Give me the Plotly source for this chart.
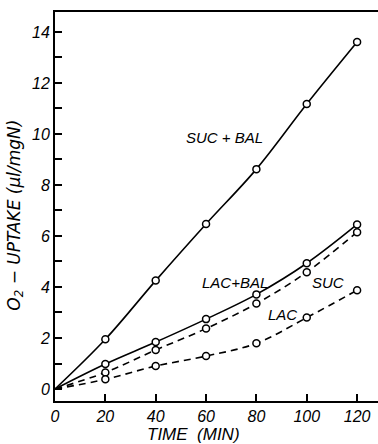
import plotly.graph_objects as go

time = [0, 20, 40, 60, 80, 100, 120]
suc_bal = [0, 1.95, 4.25, 6.47, 8.62, 11.17, 13.6]
lac_bal = [0, 0.98, 1.84, 2.74, 3.71, 4.93, 6.45]
suc = [0, 0.65, 1.53, 2.37, 3.35, 4.58, 6.15]
lac = [0, 0.38, 0.9, 1.29, 1.79, 2.8, 3.87]

x_ticks = [0, 20, 40, 60, 80, 100, 120]
y_ticks = [0, 2, 4, 6, 8, 10, 12, 14]

labels = [
    ("SUC + BAL", 67.5, 9.85),
    ("LAC+BAL", 71.5, 4.16),
    ("SUC", 108.5, 4.16),
    ("LAC", 90.5, 2.92),
]

FONT = "Liberation Sans"
fig = go.Figure()

series = [
    (suc_bal, "solid"),
    (lac_bal, "solid"),
    (suc, "7px,5px"),
    (lac, "7px,5px"),
]
for ys, dash in series:
    fig.add_trace(go.Scatter(
        x=time, y=ys, mode="lines",
        line=dict(color="black", width=1.6, dash=dash, shape="spline", smoothing=1.0),
        hoverinfo="skip", showlegend=False,
    ))
for ys, dash in series:
    fig.add_trace(go.Scatter(
        x=time[1:], y=ys[1:], mode="markers",
        marker=dict(symbol="circle", size=7, color="white",
                    line=dict(color="black", width=1.5)),
        hoverinfo="skip", showlegend=False,
    ))

for text, xv, yv in labels:
    fig.add_annotation(x=xv, y=yv, text=text, showarrow=False,
                       font=dict(family=FONT, size=15, color="black", style="italic"))

fig.add_annotation(xref="paper", yref="paper", x=-0.125, y=0.478, xanchor="center", yanchor="middle",
                   text="O<sub>2</sub> \u2212 UPTAKE (\u00b5l/mgN)", textangle=-90,
                   showarrow=False,
                   font=dict(family="DejaVu Sans", size=17, color="black", style="italic"))
fig.add_annotation(xref="paper", yref="paper", x=0.43, y=-0.087, xanchor="center",
                   text="TIME  (MIN)", showarrow=False, yanchor="middle",
                   font=dict(family=FONT, size=17, color="black", style="italic"))

fig.update_layout(
    width=378, height=444,
    margin=dict(l=55, r=0, t=12, b=43),
    paper_bgcolor="white", plot_bgcolor="white",
    font=dict(family=FONT, size=16, color="black", style="italic"),
)
fig.update_xaxes(
    range=[0, 128.3], tickmode="array", tickvals=x_ticks,
    ticks="inside", ticklen=7, tickwidth=1.5, tickcolor="black",
    showline=True, linecolor="black", linewidth=2, mirror=True,
    showgrid=False, zeroline=False,
    tickfont=dict(family=FONT, size=16, color="black", style="italic"),
)
fig.update_yaxes(
    range=[-0.47, 14.78], tickmode="array", tickvals=y_ticks,
    ticks="inside", ticklen=7, tickwidth=1.5, tickcolor="black",
    minor=dict(ticks="inside", tickmode="linear", tick0=0, dtick=1, ticklen=7,
               tickwidth=1.5, tickcolor="black", showgrid=False),
    showline=True, linecolor="black", linewidth=2,
    showgrid=False, zeroline=False,
    tickfont=dict(family=FONT, size=16, color="black", style="italic"),
)

fig.write_html("out.html")
